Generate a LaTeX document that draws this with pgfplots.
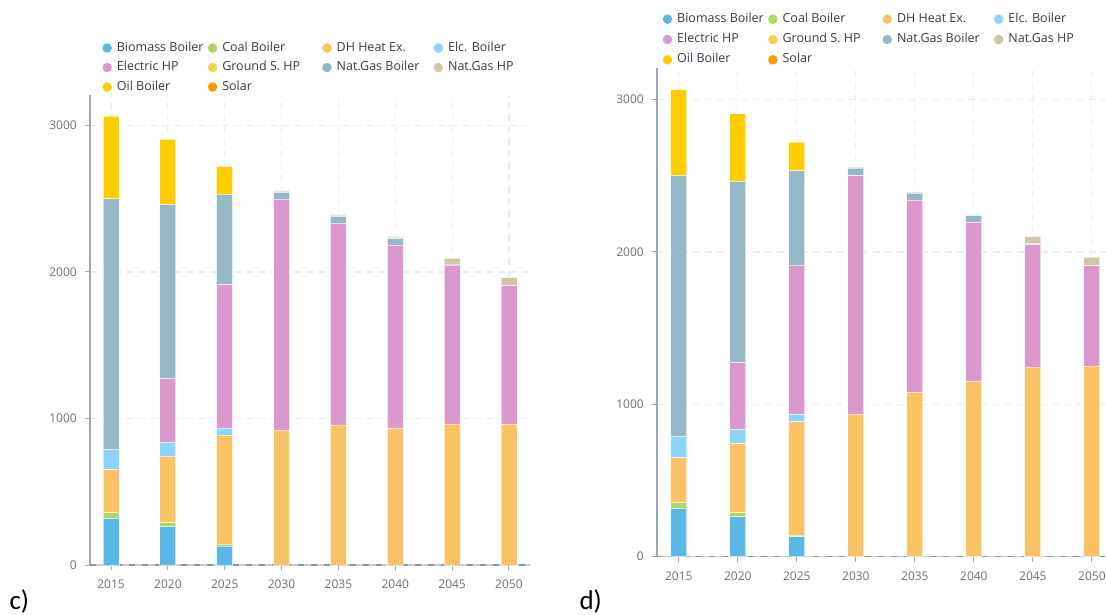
\documentclass[border=0pt]{standalone}
\usepackage{pgfplots}
\pgfplotsset{compat=1.18}
\usepackage{pgfplotstable}
\usepackage{fontspec}
\setmainfont{Open Sans}
\newfontfamily\panelfont{Carlito}

\definecolor{cbio}{HTML}{5BB8E4}
\definecolor{ccoal}{HTML}{B0D65B}
\definecolor{cdh}{HTML}{F9C264}
\definecolor{celc}{HTML}{8CD3FF}
\definecolor{cehp}{HTML}{DA98CC}
\definecolor{cgs}{HTML}{F2D24E}
\definecolor{cngb}{HTML}{94B8C6}
\definecolor{cnghp}{HTML}{CEC6A6}
\definecolor{coil}{HTML}{FFCC00}
\definecolor{csol}{HTML}{FF9900}
\definecolor{axgray}{HTML}{9AA9B5}
\definecolor{axlight}{HTML}{C3CDD5}
\definecolor{axdark}{HTML}{8797A6}
\definecolor{gridc}{HTML}{EDEDED}
\definecolor{ticktext}{HTML}{68727C}
\definecolor{legtext}{HTML}{3D3848}

% heat supply by technology, scenario c
\pgfplotstableread{
x bio coal dh elc ehp gs ngb nghp oil sol
0 317 40 293 140 0 0 1710 0 565 0
1 262 28 454 92 437 0 1189 0 444 0
2 130 13 744 46 980 0 619 0 189 0
3 0 0 917 0 1581 0 46 9 0 0
4 0 0 956 0 1378 0 46 9 0 0
5 0 0 933 0 1251 0 46 9 0 0
6 0 0 962 0 1084 0 7 41 0 0
7 0 0 960 0 947 0 0 54 0 0
}\datac

% scenario d
\pgfplotstableread{
x bio coal dh elc ehp gs ngb nghp oil sol
0 317 40 293 140 0 0 1710 0 565 0
1 262 28 454 92 437 0 1189 0 444 0
2 130 13 744 46 980 0 619 0 189 0
3 0 0 934 0 1566 0 50 7 0 0
4 0 0 1079 0 1260 0 46 8 0 0
5 0 0 1151 0 1043 0 44 6 0 0
6 0 0 1244 0 803 0 9 44 0 0
7 0 0 1251 0 658 0 0 56 0 0
}\datad

\pgfplotsset{
  lgdot/.style={legend image code/.code={\fill[#1] (4.5bp,0bp) circle[radius=4.5bp]; \path (14bp,0bp);}},
  seg/.style={fill=#1, draw=white, draw opacity=0.6, line width=0.8bp},
  panel/.style={
    scale only axis, ybar stacked, bar width=16bp,
    xmin=-0.37, xmax=7.37, ymin=0, ymax=3210,
    xtick={0,...,7}, xticklabels={2015,2020,2025,2030,2035,2040,2045,2050},
    ytick={0,1000,2000,3000},
    axis x line*=bottom, axis y line*=left,
    x axis line style={draw=axlight, line width=1.2bp},
    y axis line style={draw=axgray, line width=1.6bp},
    tick align=outside, major tick length=5bp,
    tick style={draw=axgray, line width=1bp},
    xmajorgrids, ymajorgrids,
    major grid style={draw=gridc, line width=1.2bp, dash pattern=on 7bp off 5bp},
    extra y ticks={0}, extra y tick labels={},
    extra y tick style={major grid style={draw=axdark, line width=1.2bp, dash pattern=on 6bp off 7bp}, tick style={draw=none}},
    /pgf/number format/assume math mode=true,
    /pgf/number format/1000 sep={},
    scaled y ticks=false,
    tick label style={font=\fontsize{12bp}{14bp}\selectfont, text=ticktext, inner sep=0pt},
    yticklabel style={xshift=-8bp},
    xticklabel style={yshift=-10bp},
    legend columns=4, legend cell align=left,
    legend style={draw=none, fill=none, inner sep=0pt, outer sep=0pt, column sep=0pt,
      anchor=north west, font=\fontsize{12.5bp}{15bp}\selectfont, text=legtext,
      nodes={inner sep=0pt, text height=9bp, text depth=3bp}},
  }
}

% legend columns are given fixed widths, as in the original legend
\newcommand\legendentries{%
  \addlegendimage{lgdot=cbio}\addlegendentry{\makebox[91bp][l]{Biomass Boiler}}
  \addlegendimage{lgdot=ccoal}\addlegendentry{\makebox[100bp][l]{Coal Boiler}}
  \addlegendimage{lgdot=cdh}\addlegendentry{\makebox[97bp][l]{DH Heat Ex.}}
  \addlegendimage{lgdot=celc}\addlegendentry{Elc. Boiler}
  \addlegendimage{lgdot=cehp}\addlegendentry{\makebox[91bp][l]{Electric HP}}
  \addlegendimage{lgdot=cgs}\addlegendentry{\makebox[100bp][l]{Ground S. HP}}
  \addlegendimage{lgdot=cngb}\addlegendentry{\makebox[97bp][l]{Nat.Gas Boiler}}
  \addlegendimage{lgdot=cnghp}\addlegendentry{Nat.Gas HP}
  \addlegendimage{lgdot=coil}\addlegendentry{\makebox[91bp][l]{Oil Boiler}}
  \addlegendimage{lgdot=csol}\addlegendentry{\makebox[100bp][l]{Solar}}
}

\newcommand\stackbars[1]{%
  \addplot[seg=cbio] table[x=x,y=bio]{#1};
  \addplot[seg=ccoal] table[x=x,y=coal]{#1};
  \addplot[seg=cdh] table[x=x,y=dh]{#1};
  \addplot[seg=celc] table[x=x,y=elc]{#1};
  \addplot[seg=cehp] table[x=x,y=ehp]{#1};
  \addplot[fill=cgs, draw=none] table[x=x,y=gs]{#1};
  \addplot[seg=cngb] table[x=x,y=ngb]{#1};
  \addplot[seg=cnghp] table[x=x,y=nghp]{#1};
  \addplot[seg=coil] table[x=x,y=oil]{#1};
  \addplot[fill=csol, draw=none] table[x=x,y=sol]{#1};
}

\begin{document}
\begin{tikzpicture}
\fill[white] (0bp,0bp) rectangle (1106bp,-615bp);
\useasboundingbox (0bp,0bp) rectangle (1106bp,-615bp);

\begin{axis}[panel, at={(90bp,-565bp)}, anchor=south west,
    width=440bp, height=470.3bp,
    legend style={at={(axis description cs:0.0284,1.112)}, row sep=7.5bp}]
  \legendentries
  \stackbars{\datac}
\end{axis}

\begin{axis}[panel, at={(657bp,-556.7bp)}, anchor=south west,
    width=456.7bp, height=489.2bp,
    legend style={at={(axis description cs:0.0127,1.111)}, row sep=8.3bp}]
  \legendentries
  \stackbars{\datad}
\end{axis}

\node[anchor=base west, font=\panelfont\fontsize{27bp}{32bp}\selectfont] at (6bp,-609bp) {c)};
\node[anchor=base west, font=\panelfont\fontsize{27bp}{32bp}\selectfont] at (576bp,-609bp) {d)};
\end{tikzpicture}
\end{document}
